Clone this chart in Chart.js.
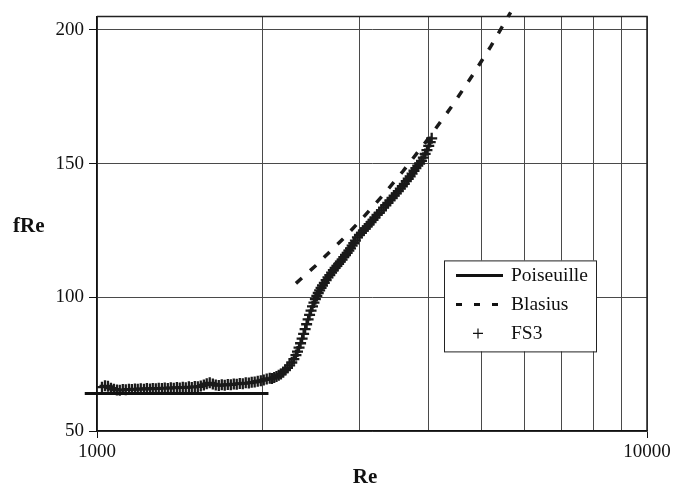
<!DOCTYPE html>
<html>
<head>
<meta charset="utf-8">
<script src="https://cdn.jsdelivr.net/npm/chart.js@4.4.0/dist/chart.umd.min.js"></script>
<style>
  html, body { margin: 0; padding: 0; background: #fff; }
  #wrap { width: 686px; height: 492px; }
</style>
</head>
<body>
<div id="wrap"><canvas id="grafico" width="686" height="492"></canvas></div>
<script>
// eixos
const reTicks = [1000, 2000, 3000, 4000, 5000, 6000, 7000, 8000, 9000, 10000];
const reLabels = [1000, 10000];
const fReTicks = [50, 100, 150, 200];

// Poiseuille (fRe = 64)
const poiseuilleRe = [950, 2050];
const poiseuilleFRe = [64, 64];

// Blasius
const blasiusRe = [2300, 2500, 2800, 3000, 3300, 3600, 4000, 4400, 4800, 5200, 5650];
const blasiusFRe = [105.2, 111.9, 121.8, 128.3, 137.8, 147.1, 159.2, 170.9, 182.5, 193.8, 206.5];

// FS3 (medido)
const fs3Re = [
  1021, 1034, 1047, 1060, 1073, 1087, 1100, 1114, 1128, 1143, 1157, 1172, 1186, 1201, 1217,
  1232, 1248, 1263, 1279, 1295, 1312, 1328, 1345, 1362, 1379, 1397, 1414, 1432, 1450, 1469,
  1487, 1506, 1525, 1544, 1564, 1583, 1603, 1624, 1644, 1665, 1686, 1707, 1729, 1751, 1773,
  1795, 1818, 1841, 1864, 1888, 1911, 1935, 1960, 1985, 2010, 2035, 2061,
  2080, 2100, 2120, 2140, 2160, 2180, 2200, 2220, 2240, 2260, 2280, 2300, 2315, 2330, 2345,
  2360, 2375, 2390, 2405, 2420, 2435, 2450, 2465, 2480, 2495, 2510, 2525, 2540, 2555, 2570,
  2590, 2610, 2630, 2650, 2670, 2690, 2710, 2730, 2750, 2770, 2790, 2810, 2830, 2850, 2870,
  2890, 2910, 2930, 2950, 2975, 3000, 3025, 3050, 3075, 3100, 3125, 3150, 3175, 3200, 3230,
  3260, 3290, 3320, 3350, 3380, 3410, 3440, 3470, 3500, 3530, 3560, 3590, 3620, 3650, 3680,
  3710, 3740, 3770, 3800, 3830, 3860, 3890, 3920, 3950, 3980, 4010, 4035, 4060
];
const fs3FRe = [
  66.4, 66.9, 66.7, 66.0, 65.6, 65.3, 65.2, 65.5, 65.4, 65.6, 65.5, 65.7, 65.6, 65.8, 65.6,
  65.9, 65.7, 65.9, 65.8, 66.0, 65.9, 66.1, 65.9, 66.2, 66.0, 66.3, 66.1, 66.4, 66.2, 66.5,
  66.3, 66.6, 66.5, 66.8, 67.2, 67.7, 68.0, 67.6, 67.2, 67.0, 67.3, 67.1, 67.4, 67.3, 67.6,
  67.5, 67.8, 67.7, 68.0, 67.9, 68.2, 68.3, 68.6, 68.8, 69.1, 69.4, 69.7,
  69.6, 70.0, 70.4, 70.8, 71.3, 72.0, 72.8, 73.6, 74.5, 75.6, 76.9, 78.4, 79.7, 81.2, 82.8,
  84.5, 86.3, 88.1, 89.9, 91.7, 93.4, 95.0, 96.6, 98.0, 99.3, 100.5, 101.6, 102.6, 103.5, 104.4,
  105.4, 106.4, 107.4, 108.3, 109.2, 110.1, 111.0, 111.7, 112.5, 113.3, 114.1, 115.0, 115.8, 116.6, 117.4,
  118.3, 119.3, 120.2, 121.2, 122.4, 123.3, 124.1, 124.9, 125.7, 126.5, 127.3, 128.1, 128.9, 129.8, 130.8,
  131.6, 132.5, 133.5, 134.4, 135.3, 136.2, 137.1, 138.0, 138.8, 139.7, 140.6, 141.5, 142.4, 143.4, 144.3,
  145.2, 146.2, 147.3, 148.3, 149.2, 150.0, 151.0, 152.2, 153.6, 155.0, 156.6, 158.0, 159.4
];

const fonte = 'Liberation Serif, Times New Roman, serif';

function pontos(xs, ys) {
  return xs.map((x, i) => ({ x: x, y: ys[i] }));
}

// moldura (topo e direita)
const moldura = {
  id: 'moldura',
  beforeDatasetsDraw(chart) {
    const ctx = chart.ctx, a = chart.chartArea;
    ctx.save();
    ctx.strokeStyle = '#222';
    ctx.lineWidth = 1.5;
    ctx.beginPath();
    ctx.moveTo(a.left, a.top);
    ctx.lineTo(a.right, a.top);
    ctx.lineTo(a.right, a.bottom);
    ctx.stroke();
    ctx.restore();
  }
};

// titulos dos eixos + legenda
const extras = {
  id: 'extras',
  afterDraw(chart) {
    const ctx = chart.ctx, a = chart.chartArea;
    ctx.save();
    ctx.fillStyle = '#111';
    ctx.font = 'bold 21px ' + fonte;
    ctx.textBaseline = 'middle';
    ctx.textAlign = 'left';
    ctx.fillText('fRe', 13, a.top + 210);
    ctx.textAlign = 'center';
    ctx.fillText('Re', a.left + 268, a.bottom + 47);

    // legenda
    const x = a.left + 347, y = a.top + 244, w = 152, h = 91;
    ctx.fillStyle = '#fff';
    ctx.fillRect(x, y, w, h);
    ctx.strokeStyle = '#222';
    ctx.lineWidth = 1;
    ctx.strokeRect(x + 0.5, y + 0.5, w, h);
    ctx.font = '19.5px ' + fonte;
    ctx.textAlign = 'left';
    chart.data.datasets.forEach((ds, i) => {
      const cy = y + 15 + i * 29;
      ctx.strokeStyle = '#111';
      if (ds.showLine) {
        ctx.lineWidth = 3;
        ctx.setLineDash(ds.borderDash ? [6, 12] : []);
        ctx.beginPath();
        ctx.moveTo(x + 12, cy);
        ctx.lineTo(x + 59, cy);
        ctx.stroke();
        ctx.setLineDash([]);
      } else {
        ctx.lineWidth = 1.2;
        ctx.beginPath();
        ctx.moveTo(x + 29, cy); ctx.lineTo(x + 39, cy);
        ctx.moveTo(x + 34, cy - 5); ctx.lineTo(x + 34, cy + 5);
        ctx.stroke();
      }
      ctx.fillStyle = '#111';
      ctx.fillText(ds.label, x + 67, cy);
    });
    ctx.restore();
  }
};

new Chart(document.getElementById('grafico'), {
  type: 'scatter',
  data: {
    datasets: [
      {
        label: 'Poiseuille',
        data: pontos(poiseuilleRe, poiseuilleFRe),
        showLine: true,
        borderColor: '#111',
        borderWidth: 3,
        pointRadius: 0,
        clip: false
      },
      {
        label: 'Blasius',
        data: pontos(blasiusRe, blasiusFRe),
        showLine: true,
        borderColor: '#1a1a1a',
        borderWidth: 3.5,
        borderDash: [8, 11],
        pointRadius: 0,
        clip: false
      },
      {
        label: 'FS3',
        data: pontos(fs3Re, fs3FRe),
        showLine: false,
        pointStyle: 'cross',
        pointRadius: 5.5,
        pointBorderWidth: 2.3,
        pointBorderColor: '#1a1a1a',
        pointBackgroundColor: '#1a1a1a'
      }
    ]
  },
  options: {
    responsive: false,
    devicePixelRatio: 1,
    animation: false,
    layout: { padding: { left: 0, top: 12, right: 39, bottom: 0 } },
    plugins: { legend: { display: false }, tooltip: { enabled: false } },
    scales: {
      x: {
        type: 'logarithmic',
        min: 1000,
        max: 10000,
        afterBuildTicks: s => { s.ticks = reTicks.map(v => ({ value: v })); },
        afterFit: s => { s.height = 61; },
        ticks: {
          autoSkip: false,
          maxRotation: 0,
          padding: 3,
          color: '#111',
          font: { family: fonte, size: 19 },
          callback: v => reLabels.includes(v) ? String(v) : ''
        },
        grid: {
          color: '#4a4a4a',
          lineWidth: 1,
          tickLength: 7,
          tickColor: c => (c.tick && reLabels.includes(c.tick.value)) ? '#111' : 'rgba(0,0,0,0)'
        },
        border: { color: '#111', width: 1.5 }
      },
      y: {
        min: 50,
        max: 205,
        afterBuildTicks: s => { s.ticks = fReTicks.map(v => ({ value: v })); },
        afterFit: s => { s.width = 97; },
        ticks: {
          padding: 5,
          color: '#111',
          font: { family: fonte, size: 19 }
        },
        grid: {
          color: '#4a4a4a',
          lineWidth: 1,
          tickLength: 8,
          tickColor: '#111'
        },
        border: { color: '#111', width: 1.5 }
      }
    }
  },
  plugins: [moldura, extras]
});
</script>
</body>
</html>
